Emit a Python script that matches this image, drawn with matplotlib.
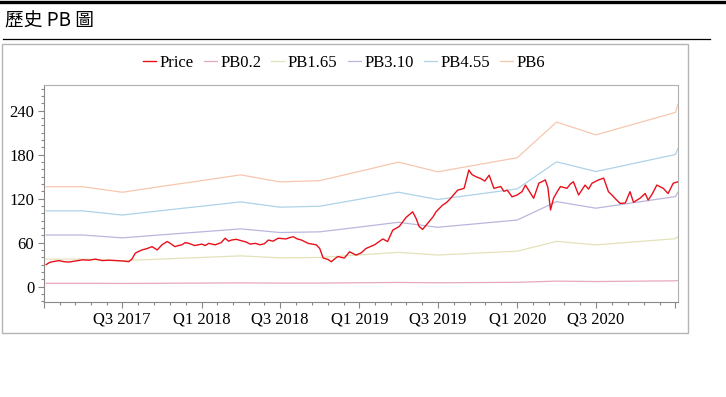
import pandas as pd
import matplotlib
matplotlib.use("Agg")
import matplotlib.pyplot as plt
import matplotlib.dates as mdates
from matplotlib.lines import Line2D
from matplotlib.patches import Rectangle

# price
price_dates = [
    "2017-01-06", "2017-01-14", "2017-01-21", "2017-02-05", "2017-02-16", "2017-02-28",
    "2017-03-15", "2017-03-31", "2017-04-15", "2017-04-30", "2017-05-16", "2017-06-01",
    "2017-06-15", "2017-07-01", "2017-07-16", "2017-07-24", "2017-07-31", "2017-08-08",
    "2017-08-16", "2017-08-28", "2017-09-08", "2017-09-20", "2017-10-01", "2017-10-13",
    "2017-10-20", "2017-10-31", "2017-11-08", "2017-11-16", "2017-11-24", "2017-12-02",
    "2017-12-16", "2018-01-01", "2018-01-09", "2018-01-17", "2018-02-01", "2018-02-15",
    "2018-02-24", "2018-03-04", "2018-03-11", "2018-03-22", "2018-04-03", "2018-04-13",
    "2018-04-23", "2018-05-05", "2018-05-16", "2018-05-26", "2018-06-04", "2018-06-15",
    "2018-06-27", "2018-07-15", "2018-07-24", "2018-08-01", "2018-08-10", "2018-08-20",
    "2018-09-04", "2018-09-23", "2018-10-01", "2018-10-09", "2018-10-20", "2018-10-28",
    "2018-11-05", "2018-11-12", "2018-11-27", "2018-12-09", "2018-12-24", "2019-01-05",
    "2019-01-16", "2019-02-05", "2019-02-24", "2019-03-07", "2019-03-19", "2019-04-03",
    "2019-04-12", "2019-04-19", "2019-05-04", "2019-05-12", "2019-05-19", "2019-05-27",
    "2019-06-11", "2019-06-20", "2019-06-27", "2019-07-12", "2019-07-22", "2019-07-31",
    "2019-08-08", "2019-08-16", "2019-08-31", "2019-09-05", "2019-09-11", "2019-09-18",
    "2019-09-27", "2019-10-08", "2019-10-18", "2019-10-28", "2019-11-08", "2019-11-24",
    "2019-12-01", "2019-12-09", "2019-12-20", "2020-01-01", "2020-01-12", "2020-01-20",
    "2020-02-01", "2020-02-08", "2020-02-20", "2020-03-06", "2020-03-12", "2020-03-18",
    "2020-03-25", "2020-04-03", "2020-04-10", "2020-04-25", "2020-05-03", "2020-05-10",
    "2020-05-22", "2020-06-06", "2020-06-14", "2020-06-22", "2020-07-07", "2020-07-19",
    "2020-07-30", "2020-08-07", "2020-08-14", "2020-08-26", "2020-09-07", "2020-09-18",
    "2020-09-26", "2020-10-04", "2020-10-11", "2020-10-23", "2020-10-30", "2020-11-08",
    "2020-11-19", "2020-12-04", "2020-12-15", "2020-12-27", "2021-01-07",
]
price = [
    30, 33, 34, 35.5, 34, 33.5,
    35, 36.5, 36, 37.5, 35.5, 36,
    35.5, 35, 34, 38, 45.5, 48,
    50, 52, 54.5, 50, 57, 61.5,
    59, 54.5, 56, 57, 60, 59,
    56, 58, 56, 59, 57, 60,
    66, 62, 63.5, 64.5, 62.5, 61,
    58, 59, 57, 58.5, 63.5, 62,
    66, 65, 67, 68, 65, 63.5,
    59, 57, 52, 39, 37, 34,
    38, 41, 39, 47.5, 43, 46,
    52, 57, 65, 61.5, 77, 82,
    89, 94.5, 102, 93, 82, 78,
    88.5, 95, 102, 111, 115, 120.5,
    126, 131.5, 134, 145, 159, 153,
    150, 147.5, 144, 152, 134, 136.5,
    130, 131.5, 122.5, 125, 129.5, 138.5,
    127, 120.5, 141, 145.5, 135, 104.5,
    120.5, 130, 136.5, 134, 140, 143,
    125, 138.5, 133, 141, 145.5, 148,
    129.5, 125, 120.5, 113.5, 114, 129.5,
    115, 118, 120.5, 127, 118, 126,
    138.5, 134, 127, 141, 143,
]

# book value per share at each quarter
bv_dates = [
    "2017-01-06", "2017-04-01", "2017-07-01", "2017-10-01", "2018-01-01", "2018-04-01",
    "2018-07-01", "2018-10-01", "2019-01-01", "2019-04-01", "2019-07-01", "2019-10-01",
    "2020-01-01", "2020-04-01", "2020-07-01", "2020-10-01", "2021-01-01", "2021-01-07",
]
bv = [22.7, 22.7, 21.45, 22.8, 24.1, 25.4, 23.8, 24.1, 26.2, 28.3, 26.1, 27.7,
      29.3, 37.4, 34.5, 37.05, 39.6, 41.5]

pb_names = ["PB0.2", "PB1.65", "PB3.10", "PB4.55", "PB6"]
pb_mult = [0.2, 1.65, 3.10, 4.55, 6]
pb_colors = ["#e6a9c0", "#e3e2b8", "#b9b7de", "#aed3e8", "#f7c7ad"]

tick_dates = ["2017-01-01", "2017-07-01", "2018-01-01", "2018-07-01", "2019-01-01",
              "2019-07-01", "2020-01-01", "2020-07-01", "2021-01-01"]
tick_labels = ["", "Q3 2017", "Q1 2018", "Q3 2018", "Q1 2019",
               "Q3 2019", "Q1 2020", "Q3 2020", ""]

pd_dates = pd.to_datetime(price_dates)
b_dates = pd.to_datetime(bv_dates)

fig = plt.figure(figsize=(7.26, 3.97), dpi=100)
W, H = 726, 397

# header decoration
fig.add_artist(Line2D([0, 1], [1 - 1.5 / H, 1 - 1.5 / H], color="black", lw=2.4,
                      transform=fig.transFigure))
fig.text(5 / W, 1 - 20.5 / H, "歷史 PB 圖", fontsize=13.5, va="center", ha="left",
         family=["Noto Sans CJK TC", "DejaVu Sans"])
fig.add_artist(Line2D([3 / W, 710 / W], [1 - 38.5 / H, 1 - 38.5 / H], color="black",
                      lw=0.9, transform=fig.transFigure))
fig.add_artist(Rectangle((2 / W, 1 - 333 / H), 686 / W, 289 / H, fill=False,
                         edgecolor="#b4b4b4", lw=1, transform=fig.transFigure))

ax = fig.add_axes([44 / W, 1 - 302 / H, 634 / W, 217 / H])

handles = []
h, = ax.plot(pd_dates, price, color="#e8101c", lw=1.0, zorder=5, label="Price")
handles.append(h)
for name, m, c in zip(pb_names, pb_mult, pb_colors):
    h, = ax.plot(b_dates, [v * m for v in bv], color=c, lw=0.9, label=name)
    handles.append(h)

ax.set_xlim(pd.Timestamp("2017-01-06"), pd.Timestamp("2021-01-07"))
ax.set_ylim(-21, 275)

tnum = mdates.date2num(pd.to_datetime(tick_dates))
ax.set_xticks(tnum)
ax.set_xticklabels(tick_labels)
minors = []
for a, b in zip(tnum[:-1], tnum[1:]):
    for k in range(1, 5):
        minors.append(a + (b - a) * k / 5)
ax.set_xticks(minors, minor=True)

ax.set_yticks([0, 60, 120, 180, 240])
ax.set_yticks(range(-20, 275, 10), minor=True)

for lab in ax.get_xticklabels() + ax.get_yticklabels():
    lab.set_family("Liberation Serif")
    lab.set_fontsize(12)
ax.tick_params(which="major", length=4, width=0.8, color="#888888", pad=3)
ax.tick_params(which="minor", length=2.5, width=0.8, color="#888888")
for s in ["left", "bottom"]:
    ax.spines[s].set_color("#888888")
for s in ["top", "right"]:
    ax.spines[s].set_color("#b0b0b0")
    ax.spines[s].set_linewidth(0.8)

fig.legend(handles=handles, loc="center", bbox_to_anchor=(344 / W, 1 - 63 / H), ncol=6,
           frameon=False, handlelength=0.78, handletextpad=0.22, columnspacing=0.6,
           prop={"family": "Liberation Serif", "size": 12})

fig.savefig("out.png", dpi=100)
